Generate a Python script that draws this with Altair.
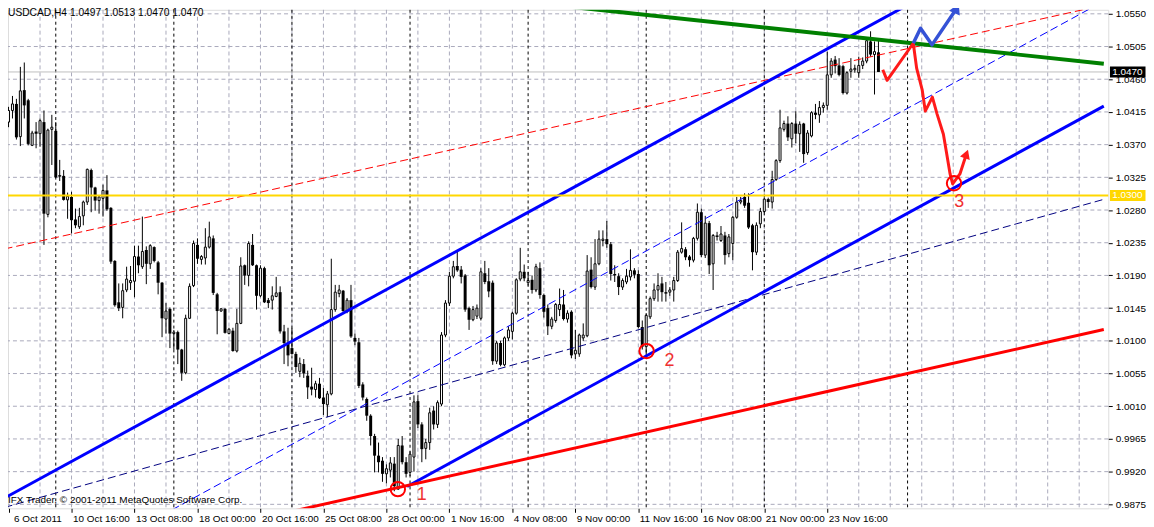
import altair as alt
import pandas as pd

# ---------------- candle data (USDCAD H4) ----------------
OPEN = [1.0401, 1.0417, 1.0426, 1.0381, 1.0445, 1.0431, 1.0369, 1.0388, 1.0385, 1.0401,
        1.0274, 1.0391, 1.0389, 1.0328, 1.0327, 1.0294, 1.0298, 1.0267, 1.0257, 1.0272,
        1.0291, 1.0335, 1.0311, 1.0293, 1.0296, 1.0307, 1.0283, 1.0210, 1.0153, 1.0146,
        1.0170, 1.0180, 1.0182, 1.0216, 1.0202, 1.0225, 1.0206, 1.0229, 1.0208, 1.0180,
        1.0130, 1.0144, 1.0110, 1.0112, 1.0088, 1.0056, 1.0131, 1.0176, 1.0232, 1.0212,
        1.0214, 1.0229, 1.0241, 1.0164, 1.0141, 1.0144, 1.0110, 1.0114, 1.0086, 1.0124,
        1.0204, 1.0190, 1.0232, 1.0204, 1.0162, 1.0200, 1.0156, 1.0156, 1.0161, 1.0167,
        1.0113, 1.0097, 1.0090, 1.0082, 1.0058, 1.0068, 1.0052, 1.0037, 1.0033, 1.0041,
        1.0022, 1.0012, 1.0027, 1.0143, 1.0165, 1.0169, 1.0141, 1.0156, 1.0104, 1.0098,
        1.0040, 1.0020, 0.9997, 0.9969, 0.9942, 0.9935, 0.9917, 0.9922, 0.9931, 0.9896,
        0.9956, 0.9933, 0.9919, 0.9940, 1.0017, 0.9985, 0.9952, 0.9960, 1.0004, 0.9985,
        1.0013, 1.0108, 1.0152, 1.0189, 1.0203, 1.0198, 1.0190, 1.0145, 1.0129, 1.0134,
        1.0131, 1.0193, 1.0182, 1.0180, 1.0072, 1.0097, 1.0067, 1.0104, 1.0113, 1.0138,
        1.0185, 1.0195, 1.0180, 1.0184, 1.0170, 1.0200, 1.0163, 1.0145, 1.0120, 1.0128,
        1.0143, 1.0150, 1.0130, 1.0140, 1.0082, 1.0082, 1.0104, 1.0107, 1.0198, 1.0174,
        1.0206, 1.0238, 1.0240, 1.0233, 1.0192, 1.0189, 1.0174, 1.0181, 1.0188, 1.0197,
        1.0192, 1.0119, 1.0092, 1.0133, 1.0158, 1.0170, 1.0179, 1.0167, 1.0167, 1.0170,
        1.0183, 1.0222, 1.0226, 1.0216, 1.0211, 1.0241, 1.0277, 1.0218, 1.0262, 1.0206,
        1.0245, 1.0238, 1.0245, 1.0220, 1.0234, 1.0270, 1.0291, 1.0298, 1.0290, 1.0259,
        1.0222, 1.0261, 1.0278, 1.0295, 1.0291, 1.0322, 1.0348, 1.0391, 1.0399, 1.0378,
        1.0399, 1.0385, 1.0399, 1.0359, 1.0382, 1.0414, 1.0411, 1.0421, 1.0424, 1.0466,
        1.0487, 1.0479, 1.0478, 1.0441, 1.0471, 1.0473, 1.0469, 1.0479, 1.0485, 1.0512,
        1.0494, 1.0497]
HIGH = [1.0422, 1.0437, 1.0433, 1.0477, 1.0483, 1.0433, 1.0389, 1.0401, 1.0406, 1.0417,
        1.0392, 1.0411, 1.0401, 1.0349, 1.0335, 1.0304, 1.0305, 1.0282, 1.0283, 1.0293,
        1.0337, 1.0337, 1.0312, 1.0299, 1.0315, 1.0328, 1.0284, 1.0211, 1.0179, 1.0179,
        1.0202, 1.0203, 1.0231, 1.0231, 1.0271, 1.0230, 1.0233, 1.0230, 1.0210, 1.0181,
        1.0152, 1.0146, 1.0115, 1.0114, 1.0089, 1.0136, 1.0179, 1.0238, 1.0241, 1.0218,
        1.0255, 1.0264, 1.0245, 1.0166, 1.0145, 1.0145, 1.0118, 1.0118, 1.0144, 1.0215,
        1.0205, 1.0237, 1.0247, 1.0205, 1.0204, 1.0202, 1.0159, 1.0175, 1.0188, 1.0175,
        1.0122, 1.0118, 1.0118, 1.0085, 1.0077, 1.0075, 1.0059, 1.0063, 1.0045, 1.0049,
        1.0035, 1.0031, 1.0213, 1.0177, 1.0177, 1.0170, 1.0159, 1.0177, 1.0110, 1.0104,
        1.0043, 1.0022, 0.9999, 0.9972, 0.9960, 0.9940, 0.9930, 0.9940, 0.9940, 0.9965,
        0.9969, 0.9940, 0.9948, 1.0025, 1.0025, 0.9988, 0.9965, 1.0008, 1.0010, 1.0018,
        1.0112, 1.0156, 1.0195, 1.0210, 1.0225, 1.0203, 1.0192, 1.0147, 1.0148, 1.0150,
        1.0200, 1.0210, 1.0200, 1.0183, 1.0100, 1.0100, 1.0106, 1.0120, 1.0140, 1.0186,
        1.0228, 1.0205, 1.0195, 1.0190, 1.0206, 1.0208, 1.0165, 1.0150, 1.0133, 1.0152,
        1.0172, 1.0170, 1.0142, 1.0142, 1.0115, 1.0110, 1.0124, 1.0218, 1.0215, 1.0240,
        1.0252, 1.0252, 1.0265, 1.0236, 1.0204, 1.0193, 1.0186, 1.0199, 1.0226, 1.0200,
        1.0197, 1.0128, 1.0138, 1.0161, 1.0179, 1.0193, 1.0188, 1.0181, 1.0174, 1.0188,
        1.0225, 1.0263, 1.0229, 1.0218, 1.0243, 1.0289, 1.0282, 1.0272, 1.0265, 1.0247,
        1.0250, 1.0258, 1.0250, 1.0247, 1.0272, 1.0298, 1.0298, 1.0303, 1.0303, 1.0261,
        1.0263, 1.0283, 1.0297, 1.0297, 1.0334, 1.0350, 1.0418, 1.0403, 1.0409, 1.0401,
        1.0416, 1.0402, 1.0400, 1.0390, 1.0416, 1.0426, 1.0430, 1.0428, 1.0498, 1.0489,
        1.0492, 1.0489, 1.0480, 1.0471, 1.0489, 1.0480, 1.0491, 1.0490, 1.0516, 1.0526,
        1.0512, 1.0513]
LOW = [1.0394, 1.0406, 1.0377, 1.0368, 1.0406, 1.0369, 1.0368, 1.0365, 1.0367, 1.0232,
       1.0270, 1.0342, 1.0324, 1.0320, 1.0293, 1.0268, 1.0248, 1.0255, 1.0254, 1.0259,
       1.0287, 1.0277, 1.0279, 1.0275, 1.0271, 1.0279, 1.0206, 1.0147, 1.0141, 1.0131,
       1.0167, 1.0170, 1.0160, 1.0193, 1.0199, 1.0178, 1.0199, 1.0208, 1.0164, 1.0105,
       1.0110, 1.0090, 1.0088, 1.0068, 1.0045, 1.0054, 1.0130, 1.0174, 1.0206, 1.0205,
       1.0205, 1.0227, 1.0163, 1.0109, 1.0140, 1.0110, 1.0109, 1.0085, 1.0084, 1.0123,
       1.0177, 1.0175, 1.0203, 1.0143, 1.0160, 1.0152, 1.0145, 1.0143, 1.0160, 1.0110,
       1.0068, 1.0065, 1.0081, 1.0056, 1.0050, 1.0049, 1.0020, 1.0025, 1.0022, 1.0020,
       0.9998, 0.9995, 1.0025, 1.0140, 1.0160, 1.0140, 1.0138, 1.0104, 1.0094, 1.0035,
       1.0018, 0.9990, 0.9956, 0.9919, 0.9919, 0.9906, 0.9904, 0.9912, 0.9893, 0.9895,
       0.9930, 0.9912, 0.9914, 0.9920, 0.9980, 0.9933, 0.9937, 0.9950, 0.9978, 0.9980,
       1.0010, 1.0105, 1.0148, 1.0186, 1.0195, 1.0179, 1.0140, 1.0115, 1.0127, 1.0130,
       1.0128, 1.0178, 1.0160, 1.0067, 1.0068, 1.0065, 1.0065, 1.0100, 1.0102, 1.0136,
       1.0182, 1.0182, 1.0176, 1.0165, 1.0167, 1.0158, 1.0132, 1.0108, 1.0116, 1.0125,
       1.0134, 1.0128, 1.0125, 1.0076, 1.0075, 1.0078, 1.0100, 1.0105, 1.0172, 1.0170,
       1.0204, 1.0230, 1.0228, 1.0183, 1.0181, 1.0163, 1.0170, 1.0178, 1.0183, 1.0186,
       1.0117, 1.0088, 1.0080, 1.0130, 1.0155, 1.0154, 1.0154, 1.0154, 1.0162, 1.0154,
       1.0181, 1.0220, 1.0211, 1.0202, 1.0208, 1.0238, 1.0215, 1.0214, 1.0192, 1.0170,
       1.0238, 1.0236, 1.0205, 1.0215, 1.0211, 1.0268, 1.0288, 1.0283, 1.0254, 1.0197,
       1.0218, 1.0255, 1.0276, 1.0283, 1.0282, 1.0320, 1.0345, 1.0388, 1.0375, 1.0366,
       1.0372, 1.0360, 1.0345, 1.0356, 1.0380, 1.0405, 1.0400, 1.0414, 1.0418, 1.0462,
       1.0468, 1.0464, 1.0439, 1.0439, 1.0462, 1.0469, 1.0462, 1.0474, 1.0482, 1.0491,
       1.0439, 1.0470]
CLOSE = [1.0417, 1.0426, 1.0380, 1.0444, 1.0424, 1.0371, 1.0386, 1.0385, 1.0403, 1.0275,
         1.0390, 1.0394, 1.0325, 1.0326, 1.0294, 1.0299, 1.0266, 1.0259, 1.0271, 1.0291,
         1.0336, 1.0311, 1.0293, 1.0298, 1.0307, 1.0281, 1.0209, 1.0149, 1.0145, 1.0169,
         1.0185, 1.0183, 1.0216, 1.0204, 1.0223, 1.0206, 1.0231, 1.0210, 1.0180, 1.0131,
         1.0141, 1.0110, 1.0112, 1.0088, 1.0056, 1.0131, 1.0175, 1.0234, 1.0213, 1.0216,
         1.0229, 1.0243, 1.0166, 1.0141, 1.0144, 1.0111, 1.0116, 1.0086, 1.0124, 1.0203,
         1.0190, 1.0234, 1.0204, 1.0162, 1.0200, 1.0153, 1.0152, 1.0162, 1.0166, 1.0113,
         1.0097, 1.0080, 1.0082, 1.0064, 1.0069, 1.0055, 1.0036, 1.0033, 1.0041, 1.0021,
         1.0013, 1.0027, 1.0143, 1.0167, 1.0170, 1.0141, 1.0156, 1.0106, 1.0099, 1.0038,
         1.0022, 0.9997, 0.9969, 0.9942, 0.9933, 0.9917, 0.9924, 0.9932, 0.9900, 0.9956,
         0.9933, 0.9917, 0.9944, 1.0016, 0.9985, 0.9951, 0.9960, 1.0001, 0.9985, 1.0015,
         1.0108, 1.0152, 1.0189, 1.0202, 1.0197, 1.0188, 1.0143, 1.0129, 1.0143, 1.0145,
         1.0195, 1.0181, 1.0168, 1.0072, 1.0097, 1.0067, 1.0104, 1.0115, 1.0138, 1.0184,
         1.0195, 1.0186, 1.0183, 1.0170, 1.0202, 1.0163, 1.0140, 1.0120, 1.0130, 1.0150,
         1.0150, 1.0130, 1.0138, 1.0080, 1.0087, 1.0108, 1.0108, 1.0196, 1.0174, 1.0206,
         1.0240, 1.0240, 1.0233, 1.0192, 1.0190, 1.0174, 1.0183, 1.0189, 1.0197, 1.0191,
         1.0119, 1.0092, 1.0135, 1.0158, 1.0170, 1.0176, 1.0167, 1.0165, 1.0170, 1.0183,
         1.0222, 1.0227, 1.0215, 1.0211, 1.0241, 1.0277, 1.0218, 1.0262, 1.0204, 1.0245,
         1.0243, 1.0247, 1.0218, 1.0243, 1.0270, 1.0291, 1.0293, 1.0286, 1.0256, 1.0222,
         1.0259, 1.0278, 1.0295, 1.0291, 1.0322, 1.0348, 1.0393, 1.0399, 1.0380, 1.0399,
         1.0385, 1.0398, 1.0357, 1.0386, 1.0414, 1.0411, 1.0421, 1.0424, 1.0466, 1.0485,
         1.0478, 1.0466, 1.0441, 1.0469, 1.0474, 1.0475, 1.0479, 1.0485, 1.0513, 1.0494,
         1.0498, 1.0470]

# ---------------- axes ----------------
DATE_TICKS = [0, 16, 32, 48, 64, 80, 96, 112, 128, 144, 160, 176, 192, 208]
DATE_LABELS = ["6 Oct 2011", "10 Oct 16:00", "13 Oct 08:00", "18 Oct 00:00", "20 Oct 16:00",
               "25 Oct 08:00", "28 Oct 00:00", "1 Nov 16:00", "4 Nov 08:00", "9 Nov 00:00",
               "11 Nov 16:00", "16 Nov 08:00", "21 Nov 00:00", "23 Nov 16:00"]
PRICE_TICKS = [0.9875, 0.9920, 0.9965, 1.0010, 1.0055, 1.0100, 1.0145, 1.0190, 1.0235,
               1.0280, 1.0325, 1.0370, 1.0415, 1.0460, 1.0505, 1.0550]
GRID_BARS = [8, 16, 24, 32, 40, 48, 56, 64, 72, 80, 88, 96, 104, 112, 120, 128, 136, 144,
             152, 160, 168, 176, 184, 192, 200, 208, 216, 224, 232, 240, 248, 256, 264, 272]
WEEK_SEPARATORS = [12, 42, 72, 102, 132, 162, 192, 228.4]

# ---------------- drawn objects ----------------
TL_NAME = ["upper", "upper", "lower", "lower", "mid", "mid", "navy", "navy",
           "reddash", "reddash", "redsolid", "redsolid", "green", "green"]
TL_BAR = [-1, 278.25, 101.25, 278.25, -1, 278.25, -1, 278.25,
          -1, 278.25, 60, 278.25, 140.43, 278.25]
TL_PRICE = [0.98837, 1.07095, 0.98996, 1.04230, 0.97417, 1.05674, 0.98708, 1.02947,
            1.02265, 1.05620, 0.98508, 1.01155, 1.05610, 1.04813]

LEVEL_YELLOW = [1.0300]
BID = [1.0470]

RED_PATH_BAR = [222.1, 223.2, 229.85, 230.7, 232.1, 232.9, 234.7, 235.9, 237.5, 238.35,
                239.2, 239.85, 241.7, 243.35]
RED_PATH_PRICE = [1.04731, 1.04585, 1.05095, 1.04753, 1.04458, 1.04161, 1.04353, 1.04120,
                  1.03843, 1.03570, 1.03296, 1.03160, 1.03296, 1.03570]
BLUE_PATH_BAR = [229.85, 231.7, 234.6, 240.85]
BLUE_PATH_PRICE = [1.05095, 1.05300, 1.05073, 1.05573]

CIRCLE_BAR = [98.9, 162.1, 240.2]
CIRCLE_PRICE = [0.98959, 1.00859, 1.03168]
NUM_BAR = [105.0, 167.9, 241.5]
NUM_PRICE = [0.98877, 1.00722, 1.02908]
NUM_TEXT = ["1", "2", "3"]

HEADER = ["USDCAD,H4  1.0497 1.0513 1.0470 1.0470"]
FOOTER = ["IFX Trader, \u00a9 2001-2011 MetaQuotes Software Corp."]

# ---------------- layout ----------------
W, H = 1108, 502
FONT = "Liberation Sans"
XS = alt.Scale(domain=[1.125, 278.125], nice=False, zero=False)
YS = alt.Scale(domain=[0.986955, 1.055553], nice=False, zero=False)

label_expr = " : ".join(f"datum.value == {t} ? '{l}'" for t, l in zip(DATE_TICKS, DATE_LABELS)) + " : ''"
XAX = alt.Axis(values=DATE_TICKS, labelExpr=label_expr, orient="bottom", domain=False, grid=False,
               tickSize=4, tickColor="black", labelAlign="left", labelBaseline="top",
               labelPadding=1,
               labelOffset={"condition": {"test": "datum.value == 0", "value": 5}, "value": 1},
               labelFont=FONT, labelFontSize=10, labelColor="black",
               labelOverlap=False, labelFlush=False, labelBound=False, title=None)
YAX = alt.Axis(values=PRICE_TICKS, format=".4f", orient="right", domain=False, grid=False,
               tickSize=4, tickColor="black", labelPadding=3, labelFont=FONT, labelFontSize=10,
               labelColor="black", labelOverlap=False, labelFlush=False, labelBound=False, title=None)


def X(f):
    return alt.X(f"{f}:Q", scale=XS, axis=XAX)


def Y(f):
    return alt.Y(f"{f}:Q", scale=YS, axis=YAX)


df = pd.DataFrame({"bar": list(range(len(OPEN))), "open": OPEN, "high": HIGH, "low": LOW, "close": CLOSE})
bear = df[df["close"] < df["open"]]
bull = df[df["close"] >= df["open"]]

GRIDC = "#A9A9BB"
hgrid = alt.Chart(pd.DataFrame({"price": PRICE_TICKS})).mark_rule(
    color=GRIDC, strokeWidth=1, strokeDash=[4, 3]).encode(y=Y("price"))
vgrid = alt.Chart(pd.DataFrame({"bar": GRID_BARS})).mark_rule(
    color=GRIDC, strokeWidth=1, strokeDash=[4, 3]).encode(x=X("bar"))
seps = alt.Chart(pd.DataFrame({"bar": WEEK_SEPARATORS})).mark_rule(
    color="black", strokeWidth=1, strokeDash=[3, 3]).encode(x=X("bar"))
bidline = alt.Chart(pd.DataFrame({"price": BID})).mark_rule(
    color="#C0C0C0", strokeWidth=1).encode(y=Y("price"))

wicks = alt.Chart(df).mark_rule(color="black", strokeWidth=1).encode(x=X("bar"), y=Y("low"), y2="high:Q")
bear_body = alt.Chart(bear).mark_bar(size=3, color="black").encode(x=X("bar"), y=Y("open"), y2="close:Q")
bull_body = alt.Chart(bull).mark_bar(size=2, fill="white", stroke="black", strokeWidth=1).encode(
    x=X("bar"), y=Y("open"), y2="close:Q")

tl = pd.DataFrame({"line": TL_NAME, "bar": TL_BAR, "price": TL_PRICE})


def trend(names, color, width, dash=None):
    kw = dict(color=color, strokeWidth=width, clip=True)
    if dash:
        kw["strokeDash"] = dash
    return alt.Chart(tl[tl["line"].isin(names)]).mark_line(**kw).encode(
        x=X("bar"), y=Y("price"), detail="line:N")


mid = trend(["mid"], "#0000FF", 1, [8, 4])
navy = trend(["navy"], "#000080", 1, [8, 4])
reddash = trend(["reddash"], "#FF0000", 1, [8, 4])
blue_thick = trend(["upper", "lower"], "#0000FF", 3)
red_thick = trend(["redsolid"], "#FF0000", 3)
green = trend(["green"], "#008000", 4)

yellow = alt.Chart(pd.DataFrame({"price": LEVEL_YELLOW})).mark_rule(
    color="#FFD700", strokeWidth=2).encode(y=Y("price"))

rp = pd.DataFrame({"bar": RED_PATH_BAR, "price": RED_PATH_PRICE, "seq": list(range(len(RED_PATH_BAR)))})
bp = pd.DataFrame({"bar": BLUE_PATH_BAR, "price": BLUE_PATH_PRICE, "seq": list(range(len(BLUE_PATH_BAR)))})
red_path = alt.Chart(rp).mark_line(color="#FF1A1A", strokeWidth=3, strokeJoin="round").encode(
    x=X("bar"), y=Y("price"), order="seq:Q")
blue_path = alt.Chart(bp).mark_line(color="#3552D6", strokeWidth=3.5, strokeJoin="round").encode(
    x=X("bar"), y=Y("price"), order="seq:Q")
red_head = alt.Chart(rp.tail(1)).mark_point(shape="triangle-up", filled=True, size=110, color="#FF1A1A",
                                            opacity=1, angle=20).encode(x=X("bar"), y=Y("price"))
blue_head = alt.Chart(bp.tail(1)).mark_point(shape="triangle-up", filled=True, size=140, color="#3552D6",
                                             opacity=1, angle=25).encode(x=X("bar"), y=Y("price"))

circles = alt.Chart(pd.DataFrame({"bar": CIRCLE_BAR, "price": CIRCLE_PRICE})).mark_point(
    shape="circle", size=210, color="#FF0000", strokeWidth=2, filled=False, opacity=1).encode(
    x=X("bar"), y=Y("price"))
nums = alt.Chart(pd.DataFrame({"bar": NUM_BAR, "price": NUM_PRICE, "t": NUM_TEXT})).mark_text(
    font=FONT, fontSize=18, color="#F03030", align="center", baseline="middle").encode(
    x=X("bar"), y=Y("price"), text="t:N")

header = alt.Chart(pd.DataFrame({"t": HEADER})).mark_text(
    font=FONT, fontSize=10.3, color="black", align="left", baseline="middle").encode(
    x=alt.value(0), y=alt.value(3.5), text="t:N")
footer = alt.Chart(pd.DataFrame({"t": FOOTER})).mark_text(
    font=FONT, fontSize=10, color="black", align="left", baseline="middle").encode(
    x=alt.value(0), y=alt.value(494), text="t:N")

badges = pd.DataFrame({"price": [BID[0], LEVEL_YELLOW[0]], "c": ["black", "#FFD700"]})
badges["label"] = badges["price"].map(lambda v: f"{v:.4f}")
badge_bg = alt.Chart(badges).mark_rule(strokeWidth=11, strokeCap="butt").encode(
    y=Y("price"), x=alt.value(W + 1.7), x2=alt.value(W + 37.5), color=alt.Color("c:N", scale=None))
badge_tx = alt.Chart(badges).mark_text(font=FONT, fontSize=10, color="white", align="left",
                                       baseline="middle").encode(
    y=Y("price"), x=alt.value(W + 4), text="label:N")

chart = alt.layer(
    hgrid, vgrid, seps, bidline, wicks, bear_body, bull_body,
    mid, navy, reddash, blue_thick, red_thick, green, yellow,
    red_path, red_head, blue_path, blue_head, circles, nums,
    header, footer, badge_bg, badge_tx
).properties(
    width=W, height=H, autosize="none",
    padding={"left": 0, "top": 0, "right": 38, "bottom": 16}
).configure_view(stroke="black", strokeWidth=1).configure(background="white")

chart.save("out.html", embed_options={"renderer": "svg", "actions": False})
